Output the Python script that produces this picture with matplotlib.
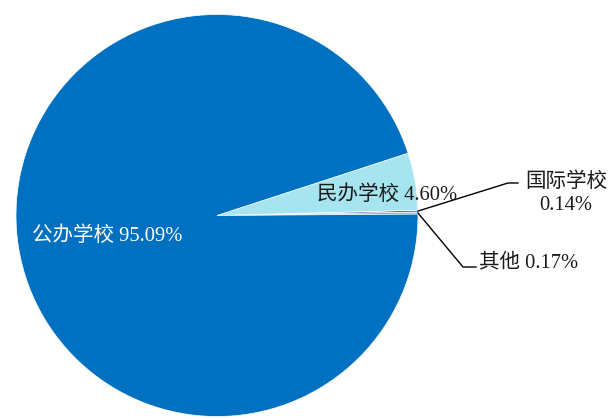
import numpy as np
import matplotlib
matplotlib.use("Agg")
import matplotlib.pyplot as plt

plt.rcParams['font.family'] = ['Liberation Serif', 'Noto Sans CJK SC', 'DejaVu Sans']

# School type shares (%), in counterclockwise drawing order
categories = ["其他", "国际学校", "民办学校", "公办学校"]
shares = [0.17, 0.14, 4.60, 95.09]
colors = ["#A0A6C6", "#4A55A6", "#A6E4F0", "#0070C0"]

W, H = 610, 419
fig = plt.figure(figsize=(W / 100, H / 100), dpi=100)
ax = fig.add_axes([0, 0, 1, 1])

cx, cy, r = 217, H - 215.5, 201
start = 0.4
wedges, _ = ax.pie(shares, colors=colors, startangle=start, counterclock=True,
                   center=(cx, cy), radius=r,
                   wedgeprops=dict(edgecolor="white", linewidth=0.5))
ax.set_xlim(0, W)
ax.set_ylim(0, H)
ax.set_aspect("equal")
ax.axis("off")

def mid_angle(w):
    return np.deg2rad((w.theta1 + w.theta2) / 2)

fs = 14.8
# Inside labels
ax.text(107, H - 236, f"{categories[3]} {shares[3]:.2f}%", color="white",
        fontsize=fs, ha="center", va="center")
ax.text(387, H - 195, f"{categories[2]} {shares[2]:.2f}%", color="#1a1a1a",
        fontsize=fs, ha="center", va="center")

# Leader line for 国际学校
a = mid_angle(wedges[1])
p0 = (cx + r * np.cos(a), cy + r * np.sin(a))
ax.plot([p0[0], 508, 518], [p0[1], H - 183, H - 183], color="black", lw=1)
ax.text(566, H - 182, categories[1], fontsize=fs, ha="center", va="center", color="#1a1a1a")
ax.text(566, H - 206, f"{shares[1]:.2f}%", fontsize=fs, ha="center", va="center", color="#1a1a1a")

# Leader line for 其他
a = mid_angle(wedges[0])
p0 = (cx + r * np.cos(a), cy + r * np.sin(a))
ax.plot([p0[0], 463, 476], [p0[1], H - 267, H - 267], color="black", lw=1)
ax.text(479, H - 263, f"{categories[0]} {shares[0]:.2f}%", fontsize=fs,
        ha="left", va="center", color="#1a1a1a")

fig.savefig("out.png", dpi=100)
